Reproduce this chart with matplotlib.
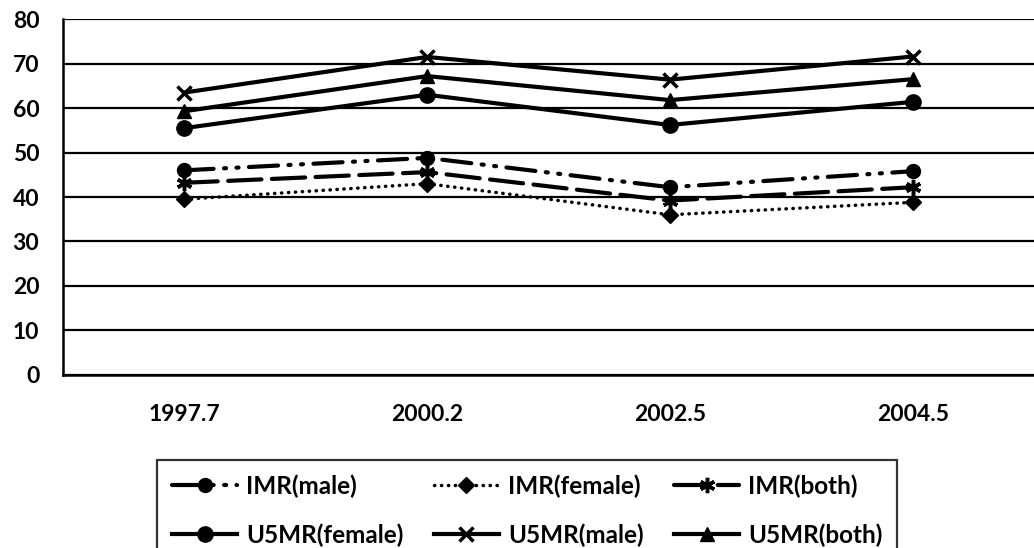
import numpy as np
import matplotlib.pyplot as plt

# survey years (category labels) and rates per 1000
years = ['1997.7', '2000.2', '2002.5', '2004.5']
imr_male = [46, 48.8, 42.2, 45.8]
imr_female = [39.5, 43, 36, 38.8]
imr_both = [43.2, 45.6, 39.2, 42.2]
u5mr_female = [55.5, 63, 56.2, 61.4]
u5mr_male = [63.5, 71.5, 66.4, 71.6]
u5mr_both = [59.3, 67.2, 61.8, 66.5]

plt.rcParams['font.family'] = ['Lato', 'DejaVu Sans']

fig = plt.figure(figsize=(10.34, 5.48), dpi=100)
ax = fig.add_axes([0.061, 0.316, 0.939, 0.649])

x = np.arange(len(years))
lw = 3

h1, = ax.plot(x, imr_male, color='black', lw=lw, marker='o', ms=10,
              dashes=(7, 2.5, 0.5, 2.5, 0.5, 2.5), dash_capstyle='round',
              label='IMR(male)')
h2, = ax.plot(x, imr_female, color='black', lw=2.5, marker='D', ms=8,
              linestyle=(0, (0.1, 1.9)), dash_capstyle='round', label='IMR(female)')
h3, = ax.plot(x, imr_both, color='black', lw=lw, marker=(6, 2, 0), ms=11, mew=2.5,
              dashes=(8, 2.5), dash_capstyle='round', label='IMR(both)')
h4, = ax.plot(x, u5mr_female, color='black', lw=lw, marker='o', ms=11,
              label='U5MR(female)')
h5, = ax.plot(x, u5mr_male, color='black', lw=lw, marker='x', ms=10, mew=2.5,
              label='U5MR(male)')
h6, = ax.plot(x, u5mr_both, color='black', lw=lw, marker='^', ms=10,
              label='U5MR(both)')

ax.set_xlim(-0.5, len(years) - 0.5)
ax.set_ylim(0, 80)
ax.set_yticks(range(0, 81, 10))
ax.set_xticks(x)
ax.set_xticklabels(years)
ax.tick_params(axis='both', length=0, labelsize=16.5)
ax.tick_params(axis='y', pad=17)
ax.tick_params(axis='x', pad=21)
for lab in ax.get_xticklabels() + ax.get_yticklabels():
    lab.set_fontweight('bold')

ax.yaxis.grid(True, color='black', lw=1.6)
ax.set_axisbelow(True)
for side in ['top', 'right']:
    ax.spines[side].set_visible(False)
for side in ['left', 'bottom']:
    ax.spines[side].set_linewidth(1.8)

# legend is filled column by column, so reorder to read row by row
handles = [h1, h4, h2, h5, h3, h6]
leg = fig.legend(handles=handles, labels=[h.get_label() for h in handles],
                 loc='upper left', bbox_to_anchor=(0.152, 0.161),
                 borderaxespad=0, ncol=3,
                 prop={'size': 17.5, 'weight': 'bold'}, frameon=True,
                 fancybox=False, edgecolor='black', handlelength=2.7,
                 labelspacing=1.05, columnspacing=1.25, handletextpad=0.35,
                 borderpad=0.6)
leg.get_frame().set_linewidth(1.6)

fig.savefig('out.png', dpi=100)
